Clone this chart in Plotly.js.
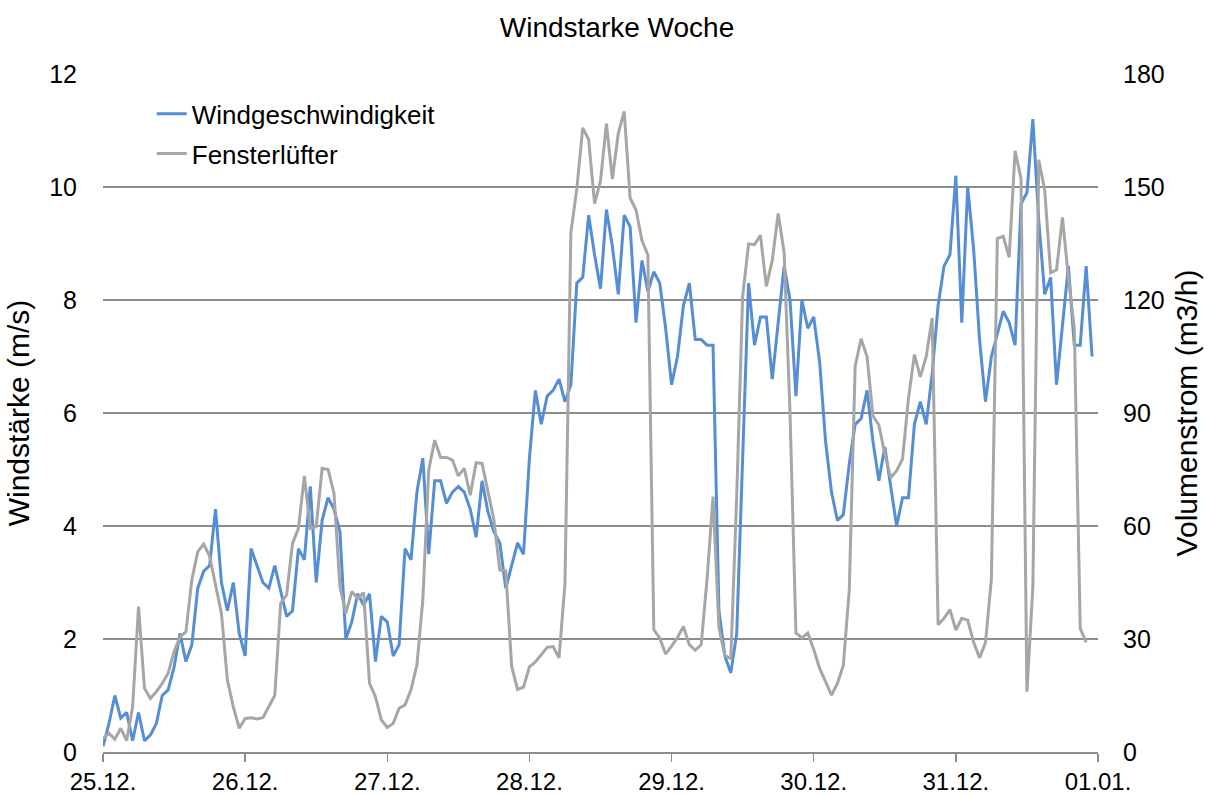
<!DOCTYPE html>
<html>
<head>
<meta charset="utf-8">
<script src="https://cdn.plot.ly/plotly-3.0.1.min.js"></script>
<style>html,body{margin:0;padding:0;background:#fff;}#chart{width:1212px;height:796px;}</style>
</head>
<body>
<div id="chart"></div>
<script>
// Hourly series, starting 25.12. 00:00
const startDate = "2013-12-25T00:00:00";
const endDate = "2014-01-01T00:00:00";

const windgeschwindigkeit = [
  0.1,0.5,1.0,0.6,0.7,0.2,0.7,0.2,0.3,0.5,1.0,1.1,1.5,2.1,1.6,1.9,2.9,3.2,3.3,4.3,3.0,2.5,3.0,2.1,
  1.7,3.6,3.3,3.0,2.9,3.3,2.85,2.4,2.5,3.6,3.4,4.7,3.0,4.1,4.5,4.3,3.9,2.0,2.3,2.8,2.6,2.8,1.6,2.4,
  2.3,1.7,1.9,3.6,3.4,4.6,5.2,3.5,4.8,4.8,4.4,4.6,4.7,4.6,4.3,3.8,4.8,4.25,3.9,3.7,2.9,3.3,3.7,3.5,
  5.2,6.4,5.8,6.3,6.4,6.6,6.2,6.5,8.3,8.4,9.5,8.8,8.2,9.6,8.95,8.1,9.5,9.3,7.6,8.7,8.15,8.5,8.3,7.5,
  6.5,7.0,7.9,8.3,7.3,7.3,7.2,7.2,2.5,1.7,1.4,2.1,5.4,8.3,7.2,7.7,7.7,6.6,7.6,8.6,8.0,6.3,8.0,7.5,
  7.7,6.9,5.5,4.6,4.1,4.2,5.1,5.8,5.9,6.4,5.5,4.8,5.4,4.7,4.0,4.5,4.5,5.8,6.2,5.8,6.7,7.9,8.6,8.8,
  10.2,7.6,10.0,8.9,7.3,6.2,7.0,7.4,7.8,7.6,7.2,9.7,9.9,11.2,9.4,8.1,8.4,6.5,7.5,8.6,7.2,7.2,8.6,7.0
];

const fensterluefter = [
  3.6,5.0,3.4,6.3,3.0,12,38.6,16.9,14.2,16.0,18.2,20.9,26.6,30.6,31.9,45.7,53.2,55.2,52.0,43.9,36.8,19.1,12.0,6.3,
  8.9,9.1,8.8,9.1,12.2,15.0,39.5,41.7,55.4,59.4,73.3,59.4,59.8,75.3,75.0,68.7,43.9,36.8,42.6,40.8,42.3,18.2,14.7,8.5,
  6.5,7.6,11.6,12.5,16.5,23.1,40.4,74.9,82.8,78.2,78.2,77.5,73.3,75.3,68.2,76.8,76.6,68.7,61.6,48.3,48.1,22.7,16.6,17.2,
  22.6,23.9,25.8,27.8,28.0,25.0,44.7,137.9,149.5,165.7,162.6,145.6,151.6,166.8,152.1,164.2,170.1,147.1,143.9,135.8,132.0,32.5,
  30.2,26.0,28.1,30.4,33.3,28.5,27.0,28.5,46,67.8,33.0,25.6,24.8,68,121,134.9,134.7,137.2,123.6,130.5,143.0,132.7,90,31.6,
  30.3,31.6,27.2,22.2,18.7,15.1,18.2,23,43,102.4,109.7,105,89.2,86.8,79.2,72.8,74.7,77.8,93.9,105.5,99.6,105,115.2,33.8,
  35.5,37.8,32.4,35.5,35.0,29.1,25.0,29.0,45.9,136.3,136.9,131.3,159.6,152.3,16.0,43.8,157.2,149.2,127.2,128.0,141.9,126,112.5,32.8,
  29.1
];

const seriesNames = ["Windgeschwindigkeit", "Fensterlüfter"];
const titleText = "Windstarke Woche";
const yTitle = "Windstärke (m/s)";
const y2Title = "Volumenstrom (m3/h)";

function hourly(n) {
  const t0 = new Date(startDate + "Z").getTime();
  const out = [];
  for (let i = 0; i < n; i++) {
    const d = new Date(t0 + i * 3600000);
    out.push(d.toISOString().slice(0, 19).replace("T", " "));
  }
  return out;
}

const FONT = "Arial, 'Liberation Sans', sans-serif";
const GRID = "#8c8c8c";
const TICK = 25;

const traces = [
  {
    x: hourly(windgeschwindigkeit.length), y: windgeschwindigkeit,
    type: "scatter", mode: "lines", name: seriesNames[0],
    line: {color: "#558ED5", width: 3}, yaxis: "y", legendgroup: "a"
  },
  {
    x: hourly(fensterluefter.length), y: fensterluefter,
    type: "scatter", mode: "lines", name: seriesNames[1],
    line: {color: "#A6A6A6", width: 3}, yaxis: "y2", legendgroup: "b"
  }
];

const layout = {
  width: 1212, height: 796,
  paper_bgcolor: "#fff", plot_bgcolor: "#fff",
  margin: {l: 103, r: 114, t: 74, b: 44, pad: 0},
  font: {family: FONT, color: "#000", size: TICK},
  title: {
    text: titleText, font: {family: FONT, size: 28, color: "#000"},
    x: 0.5166, xref: "paper", xanchor: "center",
    y: 1 - 27 / 796, yref: "container", yanchor: "middle"
  },
  showlegend: true,
  legend: {
    x: 0.049, y: 0.976, xanchor: "left", yanchor: "top",
    bgcolor: "rgba(0,0,0,0)", borderwidth: 0,
    font: {family: FONT, size: 26, color: "#000"},
    traceorder: "grouped", tracegroupgap: 3, itemwidth: 30
  },
  xaxis: {
    type: "date",
    range: [startDate.replace("T", " "), endDate.replace("T", " ")],
    dtick: 86400000, tick0: startDate.replace("T", " "),
    tickformat: "%d.%m.",
    showgrid: false, zeroline: false,
    showline: true, linecolor: GRID, linewidth: 1.5,
    ticks: "outside", ticklen: 8, tickcolor: GRID, tickwidth: 1.5,
    ticklabelstandoff: 0,
    tickfont: {family: FONT, size: 24, color: "#000"},
    fixedrange: true
  },
  yaxis: {
    range: [0, 12], dtick: 2, tick0: 0,
    showgrid: true, gridcolor: GRID, gridwidth: 1.3,
    zeroline: false, showline: false, ticks: "",
    ticklabelstandoff: 25,
    tickfont: {family: FONT, size: TICK, color: "#000"},
    title: {text: yTitle, font: {family: FONT, size: 30, color: "#000"}, standoff: 10},
    automargin: false
  },
  yaxis2: {
    range: [0, 180], dtick: 30, tick0: 0,
    overlaying: "y", side: "right",
    showgrid: false, zeroline: false, showline: false, ticks: "",
    ticklabelstandoff: 24,
    tickfont: {family: FONT, size: TICK, color: "#000"},
    title: {text: y2Title, font: {family: FONT, size: 30, color: "#000"}, standoff: 12},
    automargin: false
  }
};

Plotly.newPlot("chart", traces, layout, {staticPlot: true, displayModeBar: false});
</script>
</body>
</html>
